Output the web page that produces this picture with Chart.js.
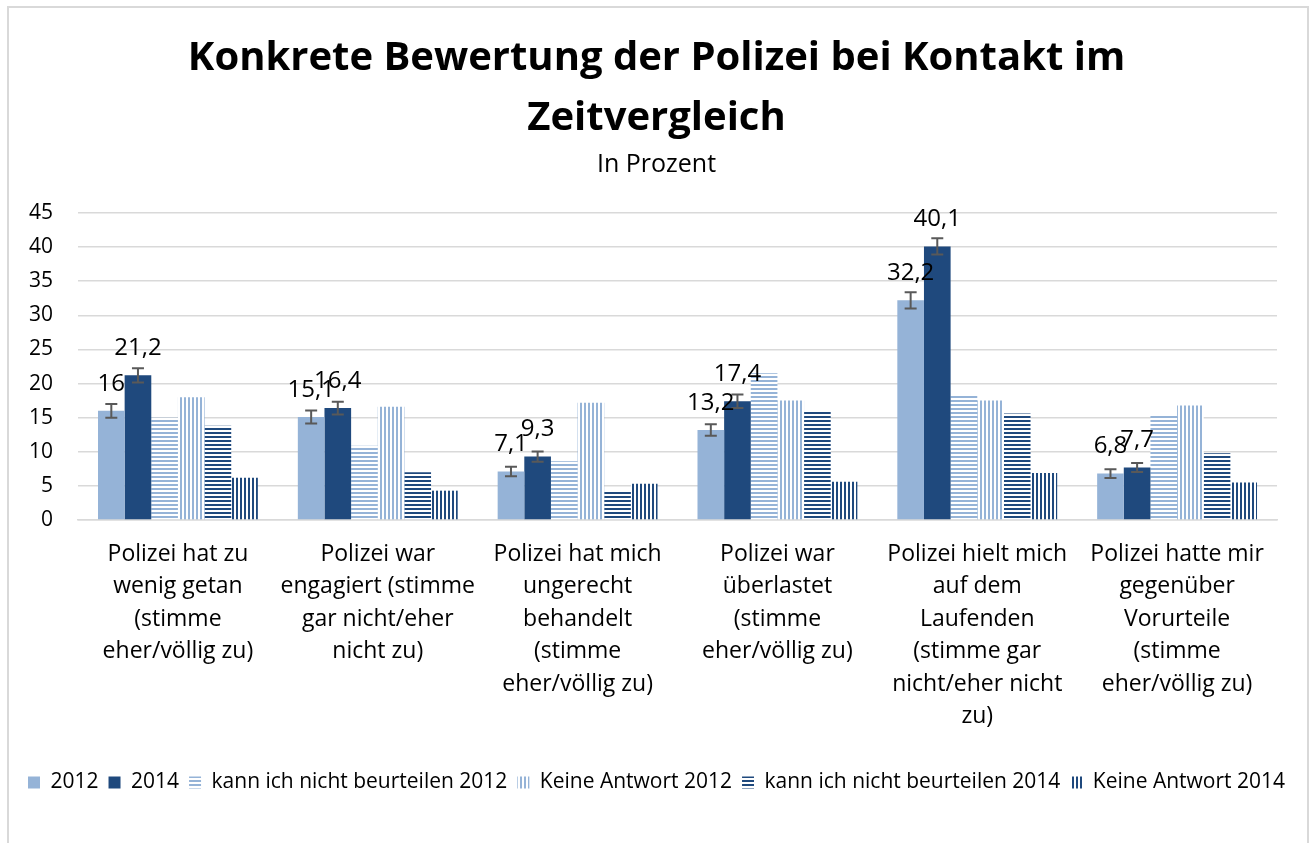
<!DOCTYPE html>
<html lang="de">
<head>
<meta charset="utf-8">
<title>Konkrete Bewertung der Polizei bei Kontakt im Zeitvergleich</title>
<script src="https://cdn.jsdelivr.net/npm/chart.js@4.4.1/dist/chart.umd.min.js"></script>
<style>
  html, body { margin: 0; padding: 0; background: #fff; overflow: hidden; }
  #frame { position: absolute; left: 7px; top: 6px; width: 1298px; height: 900px; border: 2px solid #d9d9d9; }
  #chart { position: absolute; left: 0; top: 0; }
</style>
</head>
<body>
<div id="frame"></div>
<canvas id="chart" width="1309" height="843"></canvas>
<script>
// Kategorien (mehrzeilige Achsenbeschriftung)
const categories = [
  ['Polizei hat zu', 'wenig getan', '(stimme', 'eher/völlig zu)'],
  ['Polizei war', 'engagiert (stimme', 'gar nicht/eher', 'nicht zu)'],
  ['Polizei hat mich', 'ungerecht', 'behandelt', '(stimme', 'eher/völlig zu)'],
  ['Polizei war', 'überlastet', '(stimme', 'eher/völlig zu)'],
  ['Polizei hielt mich', 'auf dem', 'Laufenden', '(stimme gar', 'nicht/eher nicht', 'zu)'],
  ['Polizei hatte mir', 'gegenüber', 'Vorurteile', '(stimme', 'eher/völlig zu)']
];

// Werte in Prozent
const values2012 = [16, 15.1, 7.1, 13.2, 32.2, 6.8];
const values2014 = [21.2, 16.4, 9.3, 17.4, 40.1, 7.7];
const kann2012 = [15.0, 10.9, 8.6, 21.5, 18.3, 15.3];
const keine2012 = [18.0, 16.6, 17.2, 17.5, 17.5, 16.8];
const kann2014 = [13.8, 7.0, 4.4, 16.0, 15.6, 9.8];
const keine2014 = [6.2, 4.3, 5.3, 5.6, 6.9, 5.5];

// Fehlerbalken (+/-) fuer 2012 und 2014
const err2012 = [1.0, 0.95, 0.7, 0.85, 1.2, 0.65];
const err2014 = [1.05, 0.95, 0.75, 1.0, 1.2, 0.65];

const yTicks = [0, 5, 10, 15, 20, 25, 30, 35, 40, 45];

const LIGHT = '#95b3d7';
const DARK = '#1f497d';

function stripes(color, vertical) {
    const c = document.createElement('canvas');
    c.width = 4; c.height = 4;
    const g = c.getContext('2d');
    g.fillStyle = '#fff';
    g.fillRect(0, 0, 4, 4);
    g.fillStyle = color;
    if (vertical) g.fillRect(0, 0, 2, 4); else g.fillRect(0, 0, 4, 2);
    return g.createPattern(c, 'repeat');
}

const fmt = v => String(v).replace('.', ',');

// Fehlerbalken zeichnen
const errorBars = {
    id: 'errorBars',
    afterDatasetsDraw(chart) {
        const y = chart.scales.y;
        const ctx = chart.ctx;
        [[0, values2012, err2012], [1, values2014, err2014]].forEach(([idx, vals, errs]) => {
            const meta = chart.getDatasetMeta(idx);
            meta.data.forEach((bar, i) => {
                const top = y.getPixelForValue(vals[i] + errs[i]);
                const bot = y.getPixelForValue(vals[i] - errs[i]);
                ctx.save();
                ctx.strokeStyle = '#595959';
                ctx.lineWidth = 2;
                ctx.beginPath();
                ctx.moveTo(bar.x, top); ctx.lineTo(bar.x, bot);
                ctx.moveTo(bar.x - 6, top); ctx.lineTo(bar.x + 6, top);
                ctx.moveTo(bar.x - 6, bot); ctx.lineTo(bar.x + 6, bot);
                ctx.stroke();
                ctx.restore();
            });
        });
    }
};

// Datenbeschriftungen fuer 2012 / 2014
const valueLabels = {
    id: 'valueLabels',
    afterDraw(chart) {
        const ctx = chart.ctx;
        ctx.save();
        ctx.font = '24px "Open Sans"';
        ctx.fillStyle = '#000';
        ctx.textAlign = 'center';
        ctx.textBaseline = 'middle';
        [[0, values2012], [1, values2014]].forEach(([idx, vals]) => {
            chart.getDatasetMeta(idx).data.forEach((bar, i) => {
                ctx.fillText(fmt(vals[i]), bar.x, bar.y - 27);
            });
        });
        ctx.restore();
    }
};

Chart.defaults.font.family = '"Open Sans"';
Chart.defaults.color = '#000';

new Chart(document.getElementById('chart'), {
    type: 'bar',
    data: {
        labels: categories,
        datasets: [
            { label: '2012', data: values2012, backgroundColor: LIGHT },
            { label: '2014', data: values2014, backgroundColor: DARK },
            { label: 'kann ich nicht beurteilen 2012', data: kann2012, backgroundColor: stripes(LIGHT, false) },
            { label: 'Keine Antwort 2012', data: keine2012, backgroundColor: stripes(LIGHT, true) },
            { label: 'kann ich nicht beurteilen 2014', data: kann2014, backgroundColor: stripes(DARK, false) },
            { label: 'Keine Antwort 2014', data: keine2014, backgroundColor: stripes(DARK, true) }
        ]
    },
    options: {
        responsive: false,
        animation: false,
        datasets: { bar: { categoryPercentage: 0.8, barPercentage: 1.0, borderWidth: 0 } },
        layout: { padding: { left: 4, right: 0, top: 0, bottom: 40 } },
        scales: {
            x: {
                grid: { display: false },
                border: { color: '#d9d9d9', width: 1.5 },
                ticks: { font: { size: 23, lineHeight: 1.413 }, padding: 10, maxRotation: 0, minRotation: 0, autoSkip: false },
                afterFit: s => { s.height += 19; }
            },
            y: {
                min: 0, max: 45,
                afterBuildTicks: s => { s.ticks = yTicks.map(v => ({ value: v })); },
                grid: { color: '#d9d9d9', lineWidth: 1.5, drawTicks: false },
                border: { display: false },
                ticks: { font: { size: 21 }, padding: 25 }
            },
            // leere rechte Achse als Randabstand
            yRight: {
                position: 'right',
                grid: { display: false },
                border: { display: false },
                ticks: { display: false },
                afterFit: s => { s.width = 32; }
            }
        },
        plugins: {
            title: {
                display: true,
                text: ['Konkrete Bewertung der Polizei bei Kontakt im', 'Zeitvergleich'],
                font: { size: 40, weight: 'bold', lineHeight: 1.5 },
                padding: { top: 29, bottom: 0 },
                color: '#000'
            },
            subtitle: {
                display: true,
                text: 'In Prozent',
                font: { size: 25 },
                padding: { top: 1, bottom: 33 },
                color: '#000'
            },
            legend: {
                position: 'bottom',
                labels: { boxWidth: 12, boxHeight: 12, font: { size: 21 }, padding: 10, color: '#000' }
            },
            tooltip: { enabled: false }
        }
    },
    plugins: [errorBars, valueLabels]
});
</script>
</body>
</html>
